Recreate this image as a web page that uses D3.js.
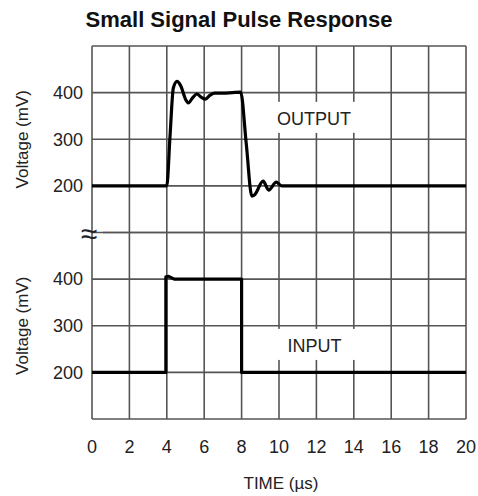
<!DOCTYPE html>
<html>
<head>
<meta charset="utf-8">
<script src="https://cdn.jsdelivr.net/npm/d3@7"></script>
<style>
  body { margin: 0; background: #fff; }
  svg { display: block; font-family: "Liberation Sans", Arial, sans-serif; }
</style>
</head>
<body>
<svg id="chart" width="478" height="496"></svg>
<script>
// data
const timeTicks = [0, 2, 4, 6, 8, 10, 12, 14, 16, 18, 20];
const voltGrid = [100, 200, 300, 400, 500];
const voltTicks = [200, 300, 400];

const outTime = [0, 4.0, 4.17, 4.35, 4.55, 4.75, 5.0, 5.15, 5.4, 5.6, 5.85, 6.05, 6.3, 6.55, 7.0, 7.5, 7.95, 8.25, 8.55, 8.7, 9.15, 9.45, 9.85, 10.15, 20];
const outVolt = [200, 200, 305, 410, 424, 414, 386, 378, 390, 397, 390, 386, 394, 399, 399, 400, 401, 290, 178, 181, 210, 191, 208, 200, 200];

const inTime = [0, 3.95, 3.95, 4.1, 4.4, 8.0, 8.0, 20];
const inVolt = [200, 200, 405, 406, 400, 400, 200, 200];

const svg = d3.select('#chart');
const gridColor = '#555';
const textColor = '#222';

const plotLeft = 92, plotRight = 466, plotTop = 46, plotMid = 232.5, plotBottom = 419;

const x = d3.scaleLinear().domain([0, 20]).range([plotLeft, plotRight]);
const yTop = d3.scaleLinear().domain([100, 500]).range([plotMid, plotTop]);
const yBot = d3.scaleLinear().domain([100, 500]).range([plotBottom, plotMid]);

// title
svg.append('text')
  .attr('x', 239).attr('y', 27)
  .attr('text-anchor', 'middle')
  .style('font-size', '22px').style('font-weight', 'bold')
  .attr('fill', '#111')
  .text('Small Signal Pulse Response');

const grid = svg.append('g').attr('stroke', gridColor).attr('stroke-width', 1.6);

// vertical grid
grid.selectAll('.vline')
  .data(timeTicks)
  .enter().append('line')
  .attr('x1', d => x(d)).attr('x2', d => x(d))
  .attr('y1', plotTop).attr('y2', plotBottom);

// horizontal grid, both panels
[yTop, yBot].forEach((y, i) => {
  grid.selectAll('.h' + i)
    .data(voltGrid)
    .enter().append('line')
    .attr('x1', d => (i == 0 && d == 100) ? plotLeft + 11 : plotLeft)
    .attr('x2', plotRight)
    .attr('y1', d => y(d)).attr('y2', d => y(d));
});

// label boxes knock out the grid
const labels = [
  { text: 'OUTPUT', t: 11.87, y: yTop, v: 348 },
  { text: 'INPUT', t: 11.9, y: yBot, v: 261 }
];
labels.forEach(l => {
  svg.append('rect')
    .attr('x', x(l.t) - 45).attr('y', l.y(l.v) - 15)
    .attr('width', 90).attr('height', 31)
    .attr('fill', '#fff');
  svg.append('text')
    .attr('x', x(l.t)).attr('y', l.y(l.v) + 8)
    .attr('text-anchor', 'middle')
    .style('font-size', '18px')
    .attr('fill', textColor)
    .text(l.text);
});

// axis-break mark
svg.append('text')
  .attr('x', plotLeft - 3).attr('y', plotMid + 11)
  .attr('text-anchor', 'middle')
  .style('font-size', '30px')
  .attr('fill', textColor)
  .text('≈');

// y tick labels and titles
[yTop, yBot].forEach(y => {
  svg.append('g').selectAll('text')
    .data(voltTicks)
    .enter().append('text')
    .attr('x', plotLeft - 9).attr('y', d => y(d))
    .attr('dy', '0.35em')
    .attr('text-anchor', 'end')
    .style('font-size', '18px')
    .attr('fill', textColor)
    .text(d => d);

  const cy = (y.range()[0] + y.range()[1]) / 2;
  svg.append('text')
    .attr('transform', `translate(28, ${cy}) rotate(-90)`)
    .attr('text-anchor', 'middle')
    .style('font-size', '17px')
    .attr('fill', textColor)
    .text('Voltage (mV)');
});

// x tick labels
svg.append('g').selectAll('text')
  .data(timeTicks)
  .enter().append('text')
  .attr('x', d => x(d)).attr('y', 453)
  .attr('text-anchor', 'middle')
  .style('font-size', '18px')
  .attr('fill', textColor)
  .text(d => d);

svg.append('text')
  .attr('x', 281).attr('y', 489)
  .attr('text-anchor', 'middle')
  .style('font-size', '17px')
  .attr('fill', textColor)
  .text('TIME (µs)');

// waveforms
const outLine = d3.line()
  .x(d => x(d[0])).y(d => yTop(d[1]))
  .curve(d3.curveMonotoneX);
const inLine = d3.line()
  .x(d => x(d[0])).y(d => yBot(d[1]));

svg.append('path')
  .datum(d3.zip(outTime, outVolt))
  .attr('d', outLine)
  .attr('fill', 'none').attr('stroke', '#000')
  .attr('stroke-width', 3.2).attr('stroke-linejoin', 'round');

svg.append('path')
  .datum(d3.zip(inTime, inVolt))
  .attr('d', inLine)
  .attr('fill', 'none').attr('stroke', '#000')
  .attr('stroke-width', 3.2).attr('stroke-linejoin', 'round');
</script>
</body>
</html>
